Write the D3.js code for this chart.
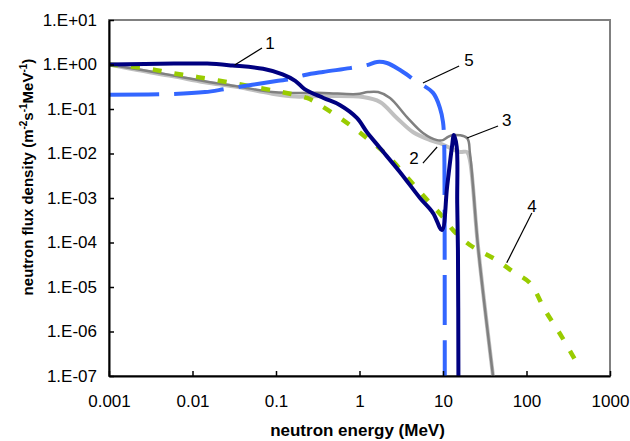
<!DOCTYPE html>
<html>
<head>
<meta charset="utf-8">
<script src="https://d3js.org/d3.v7.min.js"></script>
<style>
  body { margin: 0; background: #fff; }
  text { font-family: Arial, "Liberation Sans", sans-serif; }
</style>
</head>
<body>
<div id="chart"></div>
<script>
// tick values and labels
var xTicks = [0.001, 0.01, 0.1, 1, 10, 100, 1000];
var xTickLabels = ["0.001", "0.01", "0.1", "1", "10", "100", "1000"];
var yTicks = [1e-7, 1e-6, 1e-5, 1e-4, 1e-3, 1e-2, 1e-1, 1, 10];
var yTickLabels = ["1.E-07", "1.E-06", "1.E-05", "1.E-04", "1.E-03", "1.E-02", "1.E-01", "1.E+00", "1.E+01"];

// spectrum 1 (navy)
var energy1 = [0.001, 0.006, 0.015, 0.03, 0.07, 0.12, 0.17, 0.22, 0.37, 0.58, 0.93, 1.23, 1.76, 3.06, 5.3, 7.6, 9.7, 11.2, 12.8, 13.5, 14.6, 14.8, 15.1, 15.3];
var flux1 = [1.0, 1.05, 1.05, 0.95, 0.8, 0.6, 0.43, 0.28, 0.177, 0.123, 0.063, 0.030, 0.0133, 0.0038, 0.001, 4.6e-4, 1.9e-4, 0.0018, 0.014, 0.026, 0.014, 7.7e-4, 6.8e-5, 1e-7];

// spectrum 2 (light grey)
var energy2 = [0.001, 0.0022, 0.0057, 0.014, 0.035, 0.09, 0.17, 0.37, 1.1, 1.76, 2.8, 4.4, 7.0, 9.2, 12.5, 16, 19.4, 21, 26.3, 39.7];
var flux2 = [1.0, 0.75, 0.55, 0.40, 0.31, 0.22, 0.19, 0.196, 0.186, 0.144, 0.063, 0.030, 0.020, 0.017, 0.013, 0.0108, 0.0108, 0.0071, 7.9e-5, 1e-7];

// spectrum 3 (grey)
var energy3 = [0.001, 0.0022, 0.0057, 0.014, 0.035, 0.09, 0.15, 0.37, 0.93, 1.26, 1.67, 2.32, 3.7, 5.75, 8.5, 10, 11.5, 13.2, 19.4, 21, 22.9, 26.3, 39.7];
var flux3 = [1.0, 0.78, 0.57, 0.42, 0.32, 0.24, 0.23, 0.23, 0.217, 0.24, 0.24, 0.177, 0.066, 0.029, 0.020, 0.020, 0.0235, 0.026, 0.0223, 0.0103, 0.0018, 7.9e-5, 1e-7];

// spectrum 4 (green)
var energy4 = [0.001, 0.0027, 0.0057, 0.0116, 0.0266, 0.061, 0.118, 0.235, 0.336, 0.63, 1.1, 2.13, 4.0, 7.0, 10, 13.2, 21, 44, 69, 110, 167, 266, 426];
var flux4 = [1.0, 0.83, 0.64, 0.52, 0.40, 0.30, 0.24, 0.177, 0.123, 0.057, 0.026, 0.0092, 0.0025, 7.7e-4, 3.7e-4, 1.9e-4, 8.8e-5, 4.0e-5, 2.2e-5, 1.23e-5, 3.0e-6, 7.5e-7, 1.6e-7];

// spectrum 5 (blue)
var energy5 = [0.001, 0.0057, 0.0141, 0.0245, 0.052, 0.106, 0.147, 0.222, 0.366, 0.77, 1.23, 1.62, 2.13, 3.06, 4.62, 7.6, 9.2, 10.0, 10.3, 10.4, 10.5];
var flux5 = [0.21, 0.217, 0.24, 0.28, 0.35, 0.43, 0.47, 0.58, 0.68, 0.83, 0.97, 1.14, 1.08, 0.75, 0.44, 0.23, 0.105, 0.051, 0.022, 0.0064, 1e-7];

// curve numbers with leader lines (energy, flux)
var labelNames = ["1", "2", "3", "4", "5"];
var labelAt = [[0.085, 3.0], [4.5, 0.0079], [58, 0.057], [116, 6.6e-4], [20.5, 1.26]];
var leaderFrom = [[0.032, 0.97], [5.75, 0.0061], [19.4, 0.0223], [58, 3.5e-5], [5.75, 0.384]];
var leaderTo = [[0.068, 2.35], [8.5, 0.014], [45.6, 0.0415], [116, 4.6e-4], [15.6, 0.925]];

// set the dimensions and margins of the graph
var margin = {top: 20, right: 20, bottom: 65, left: 109},
  width = 630 - margin.left - margin.right,
  height = 441 - margin.top - margin.bottom;

var svg = d3.select("#chart")
.append("svg")
  .attr("width", 630)
  .attr("height", 441)
.append("g")
  .attr("transform", "translate(" + margin.left + "," + margin.top + ")");

var x = d3.scaleLog().domain([0.001, 1000]).range([0, width]);
var y = d3.scaleLog().domain([1e-7, 10]).range([height, 0]);

// plot area border
svg.append("rect")
  .attr("width", width)
  .attr("height", height)
  .attr("fill", "none")
  .attr("stroke", "#808080")
  .attr("stroke-width", 2);

svg.append("clipPath")
  .attr("id", "clip")
.append("rect")
  .attr("width", width)
  .attr("height", height);

var line = d3.line()
  .x(function(d) { return x(d[0]); })
  .y(function(d) { return y(d[1]); })
  .curve(d3.curveCatmullRom.alpha(0.5));

var series = [
  {e: energy2, f: flux2, color: "#c0c0c0", w: 4, dash: null},
  {e: energy3, f: flux3, color: "#808080", w: 2.5, dash: null},
  {e: energy4, f: flux4, color: "#99cc00", w: 4.5, dash: "9,13"},
  {e: energy5, f: flux5, color: "#3366ff", w: 4, dash: "50,15"},
  {e: energy1, f: flux1, color: "#000080", w: 4, dash: null}
];

svg.append("g")
  .attr("clip-path", "url(#clip)")
  .selectAll("path")
  .data(series)
  .enter()
  .append("path")
    .attr("d", function(s) { return line(d3.zip(s.e, s.f)); })
    .attr("fill", "none")
    .attr("stroke", function(s) { return s.color; })
    .attr("stroke-width", function(s) { return s.w; })
    .attr("stroke-dasharray", function(s) { return s.dash; })
    .attr("stroke-linejoin", "round");

// axes
var xAxis = svg.append("g")
  .attr("transform", "translate(0," + height + ")")
  .call(d3.axisBottom(x).tickValues(xTicks)
    .tickFormat(function(d, i) { return xTickLabels[i]; })
    .tickSizeInner(-5).tickSizeOuter(0).tickPadding(19));

var yAxis = svg.append("g")
  .call(d3.axisLeft(y).tickValues(yTicks)
    .tickFormat(function(d, i) { return yTickLabels[i]; })
    .tickSizeInner(-5).tickSizeOuter(0).tickPadding(12));

[xAxis, yAxis].forEach(function(a) {
  a.select(".domain").attr("stroke", "#000").attr("stroke-width", 2);
  a.selectAll(".tick line").attr("stroke", "#000").attr("stroke-width", 1.5);
  a.selectAll(".tick text")
    .attr("fill", "#000")
    .style("font-size", "17px")
    .style("font-family", "Arial, 'Liberation Sans', sans-serif");
});

// curve labels
svg.selectAll(".leader")
  .data(labelNames)
  .enter()
  .append("line")
    .attr("x1", function(d, i) { return x(leaderFrom[i][0]); })
    .attr("y1", function(d, i) { return y(leaderFrom[i][1]); })
    .attr("x2", function(d, i) { return x(leaderTo[i][0]); })
    .attr("y2", function(d, i) { return y(leaderTo[i][1]); })
    .attr("stroke", "#000")
    .attr("stroke-width", 1.2);

svg.selectAll(".curve-label")
  .data(labelNames)
  .enter()
  .append("text")
    .attr("x", function(d, i) { return x(labelAt[i][0]); })
    .attr("y", function(d, i) { return y(labelAt[i][1]); })
    .attr("dy", "0.35em")
    .attr("text-anchor", "middle")
    .style("font-size", "17px")
    .text(function(d) { return d; });

// axis titles
svg.append("text")
  .attr("x", width / 2 - 2)
  .attr("y", height + 60)
  .attr("text-anchor", "middle")
  .style("font-size", "17px")
  .style("font-weight", "bold")
  .text("neutron energy (MeV)");

var yTitle = svg.append("text")
  .attr("transform", "translate(" + (33 - margin.left) + "," + (177 - margin.top) + ") rotate(-90)")
  .attr("text-anchor", "middle")
  .style("font-size", "15px")
  .style("font-weight", "bold");
yTitle.append("tspan").text("neutron flux density (m");
yTitle.append("tspan").attr("dy", -6).style("font-size", "10px").text("-2");
yTitle.append("tspan").attr("dy", 6).text("s");
yTitle.append("tspan").attr("dy", -6).style("font-size", "10px").text("-1");
yTitle.append("tspan").attr("dy", 6).text("MeV");
yTitle.append("tspan").attr("dy", -6).style("font-size", "10px").text("-1");
yTitle.append("tspan").attr("dy", 6).text(")");
</script>
</body>
</html>
